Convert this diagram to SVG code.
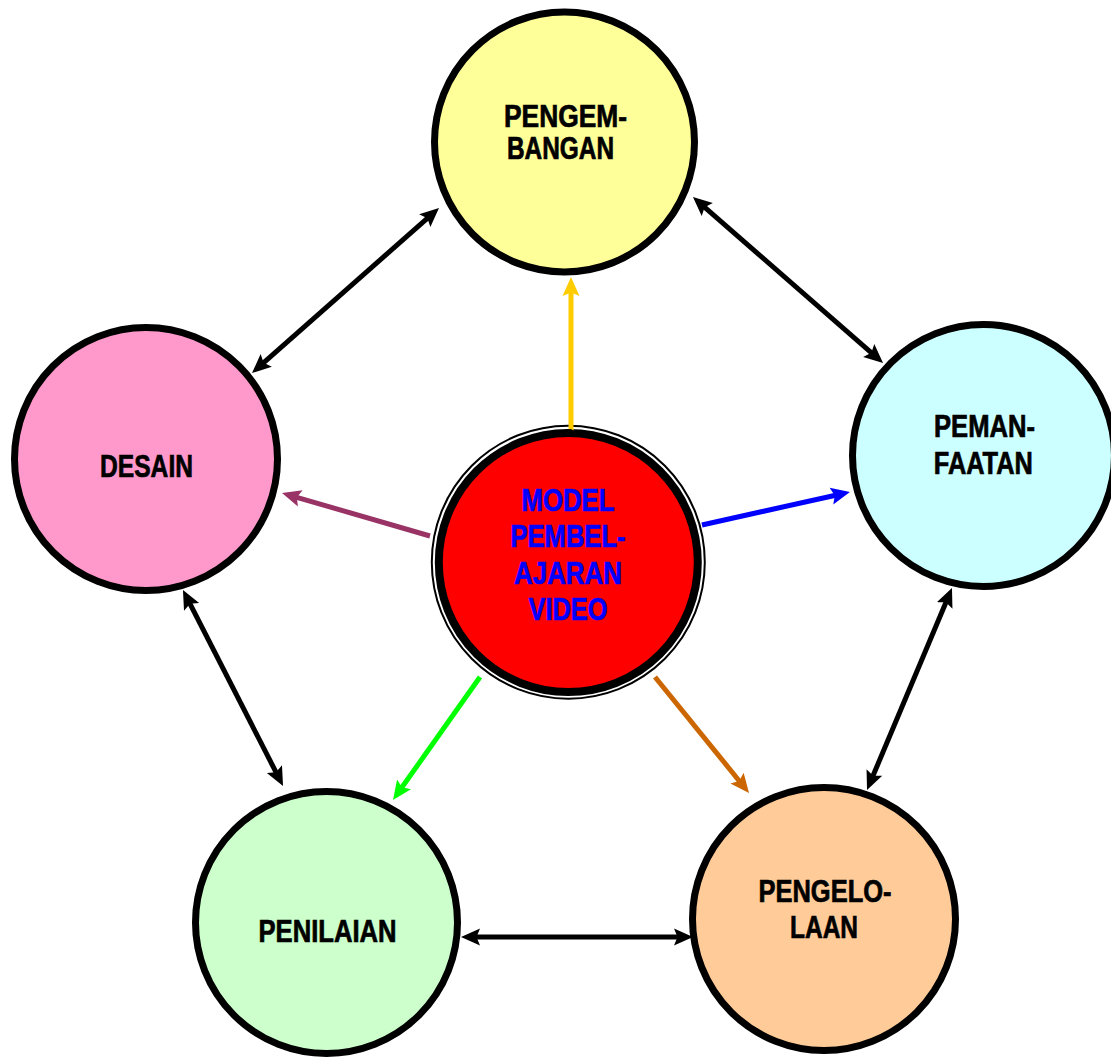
<svg xmlns="http://www.w3.org/2000/svg" width="1111" height="1057" viewBox="0 0 1111 1057">
<style>
.node{stroke:#000;stroke-width:7}
.lbl{font-family:"Liberation Sans",Arial,sans-serif;font-weight:bold;font-size:30.5px;fill:#000;stroke:#000;stroke-width:0.7;text-anchor:middle}
.ctr{fill:#0000FF;stroke:#0000FF}
.blk{stroke:#000;stroke-width:5;fill:none}
.col{stroke-width:5;fill:none}
</style>
<defs>
<marker id="ab" markerUnits="userSpaceOnUse" markerWidth="20" markerHeight="20" viewBox="0 0 20 20" refX="9" refY="10" orient="auto-start-reverse"><path d="M0,1.5 L19,10 L0,18.5 L3.5,10 Z" fill="#000"/></marker>
<marker id="ay" markerUnits="userSpaceOnUse" markerWidth="20" markerHeight="20" viewBox="0 0 20 20" refX="9" refY="10" orient="auto"><path d="M0,1.5 L19,10 L0,18.5 L3.5,10 Z" fill="#FFCC00"/></marker>
<marker id="ap" markerUnits="userSpaceOnUse" markerWidth="20" markerHeight="20" viewBox="0 0 20 20" refX="9" refY="10" orient="auto"><path d="M0,1.5 L19,10 L0,18.5 L3.5,10 Z" fill="#993366"/></marker>
<marker id="abl" markerUnits="userSpaceOnUse" markerWidth="20" markerHeight="20" viewBox="0 0 20 20" refX="9" refY="10" orient="auto"><path d="M0,1.5 L19,10 L0,18.5 L3.5,10 Z" fill="#0000FF"/></marker>
<marker id="ag" markerUnits="userSpaceOnUse" markerWidth="20" markerHeight="20" viewBox="0 0 20 20" refX="9" refY="10" orient="auto"><path d="M0,1.5 L19,10 L0,18.5 L3.5,10 Z" fill="#00FF00"/></marker>
<marker id="ao" markerUnits="userSpaceOnUse" markerWidth="20" markerHeight="20" viewBox="0 0 20 20" refX="9" refY="10" orient="auto"><path d="M0,1.5 L19,10 L0,18.5 L3.5,10 Z" fill="#CC6600"/></marker>
</defs>
<rect width="1111" height="1057" fill="#fff"/>

<g id="pengembangan">
<circle class="node" cx="564.5" cy="142" r="130" fill="#FFFF99"/>
<text class="lbl" x="565.5" y="127" textLength="123" lengthAdjust="spacingAndGlyphs">PENGEM-</text>
<text class="lbl" x="560.5" y="159" textLength="107" lengthAdjust="spacingAndGlyphs">BANGAN</text>
</g>
<g id="desain">
<circle class="node" cx="146" cy="459" r="131.5" fill="#FF99CC"/>
<text class="lbl" x="146.5" y="477" textLength="93" lengthAdjust="spacingAndGlyphs">DESAIN</text>
</g>
<g id="pemanfaatan">
<circle class="node" cx="983.5" cy="455.5" r="131" fill="#CCFFFF"/>
<text class="lbl" x="984.5" y="437" textLength="101" lengthAdjust="spacingAndGlyphs">PEMAN-</text>
<text class="lbl" x="983.3" y="474" textLength="99" lengthAdjust="spacingAndGlyphs">FAATAN</text>
</g>
<g id="penilaian">
<circle class="node" cx="326.5" cy="922.5" r="131" fill="#CCFFCC"/>
<text class="lbl" x="327.5" y="942" textLength="138" lengthAdjust="spacingAndGlyphs">PENILAIAN</text>
</g>
<g id="pengelolaan">
<circle class="node" cx="824" cy="919" r="131.5" fill="#FFCC99"/>
<text class="lbl" x="825" y="902" textLength="133" lengthAdjust="spacingAndGlyphs">PENGELO-</text>
<text class="lbl" x="824" y="938" textLength="68" lengthAdjust="spacingAndGlyphs">LAAN</text>
</g>
<g id="model">
<circle cx="568.3" cy="562.2" r="136.5" fill="#fff" stroke="#000" stroke-width="2"/>
<circle cx="568.3" cy="562.5" r="129.5" fill="#FF0000" stroke="#000" stroke-width="8"/>
<text class="lbl ctr" x="568" y="510.5" textLength="93" lengthAdjust="spacingAndGlyphs">MODEL</text>
<text class="lbl ctr" x="568" y="547" textLength="115" lengthAdjust="spacingAndGlyphs">PEMBEL-</text>
<text class="lbl ctr" x="568" y="584" textLength="108" lengthAdjust="spacingAndGlyphs">AJARAN</text>
<text class="lbl ctr" x="568" y="620" textLength="79" lengthAdjust="spacingAndGlyphs">VIDEO</text>
</g>

<g id="connectors">
<line class="blk" x1="431.5" y1="214.6" x2="259.5" y2="366.4" marker-start="url(#ab)" marker-end="url(#ab)"/>
<line class="blk" x1="700.5" y1="203.6" x2="875.5" y2="356.4" marker-start="url(#ab)" marker-end="url(#ab)"/>
<line class="blk" x1="471" y1="937" x2="683" y2="937" marker-start="url(#ab)" marker-end="url(#ab)"/>
<line class="blk" x1="187.5" y1="598.9" x2="278.5" y2="777.1" marker-start="url(#ab)" marker-end="url(#ab)"/>
<line class="blk" x1="948.1" y1="597.2" x2="870.9" y2="780.8" marker-start="url(#ab)" marker-end="url(#ab)"/>
<line class="col" stroke="#FFCC00" x1="571" y1="432" x2="571" y2="287" marker-end="url(#ay)"/>
<line class="col" stroke="#993366" x1="430" y1="536" x2="291.6" y2="495.8" marker-end="url(#ap)"/>
<line class="col" stroke="#0000FF" x1="702" y1="525" x2="840.2" y2="494.2" marker-end="url(#abl)"/>
<line class="col" stroke="#00FF00" x1="480" y1="677" x2="398.8" y2="791.8" marker-end="url(#ag)"/>
<line class="col" stroke="#CC6600" x1="655" y1="677" x2="742.7" y2="785.2" marker-end="url(#ao)"/>
<ellipse cx="569" cy="433" rx="6" ry="4" fill="#000"/>
</g>
</svg>
